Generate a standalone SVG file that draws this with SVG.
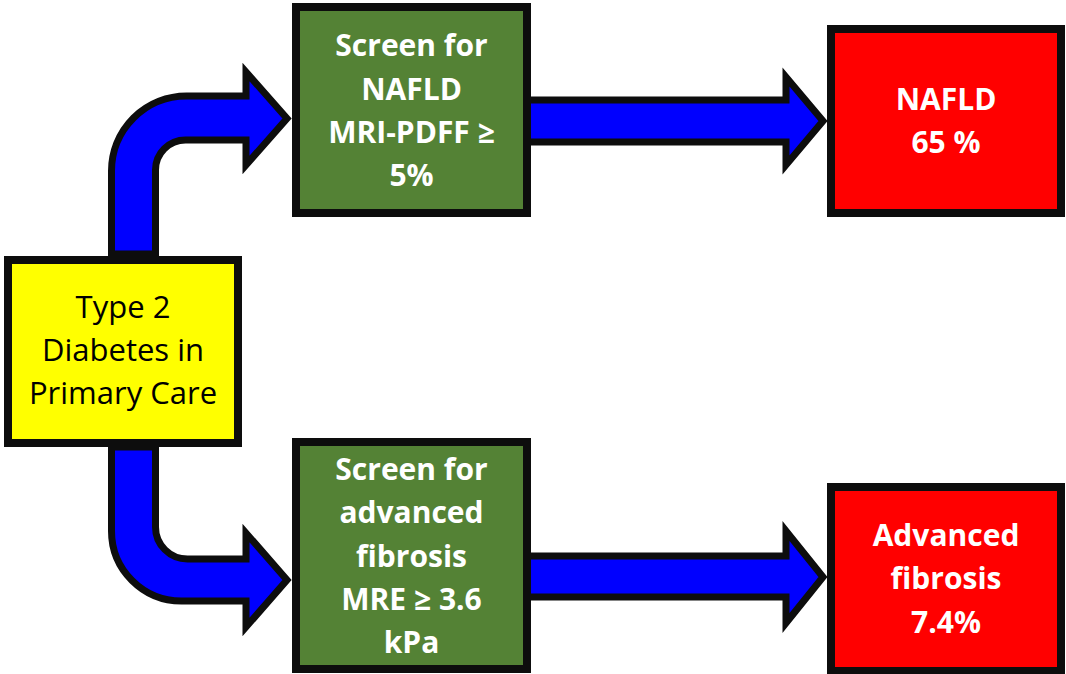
<svg xmlns="http://www.w3.org/2000/svg" width="1066" height="674" viewBox="0 0 1066 674">
<style>
.arrow{fill:#0000ff;stroke:#0d0d0d;stroke-width:7;stroke-linejoin:miter;stroke-miterlimit:10}
.box{stroke:#0d0d0d;stroke-width:8}
.t{font-family:"Open Sans","Liberation Sans",sans-serif;font-size:30px;text-anchor:middle}
.w{fill:#ffffff;font-weight:bold}
.k{fill:#000000;font-size:31px}
</style>
<rect width="1066" height="674" fill="#ffffff"/>
<g id="connectors">
<path class="arrow" d="M111.5,254 L111.5,171 A75,75 0 0 1 186.5,96 L246,96 L246,72 L287,118.5 L246,165 L246,140 L185.5,140 A30,30 0 0 0 155.5,170 L155.5,254 Z"/>
<path class="arrow" d="M111.5,447 L111.5,531 A70,70 0 0 0 181.5,601 L246,601 L246,627 L287,580 L246,533 L246,559 L187.5,559 A32,32 0 0 1 155.5,527 L155.5,447 Z"/>
<path class="arrow" d="M527,100 L786,100 L786,77 L823,121 L786,165 L786,142 L527,142 Z"/>
<path class="arrow" d="M527,556 L786,556 L786,531 L823,577 L786,623 L786,597 L527,597 Z"/>
</g>
<g id="node-diabetes">
<rect class="box" x="8" y="260" width="230" height="183" fill="#ffff00"/>
<text class="t k" x="123" y="318">Type 2</text>
<text class="t k" x="123" y="361">Diabetes in</text>
<text class="t k" x="123" y="404">Primary Care</text>
</g>
<g id="node-screen-nafld">
<rect class="box" x="296" y="7" width="231" height="206" fill="#548235"/>
<text class="t w" x="411.5" y="56">Screen for</text>
<text class="t w" x="411.5" y="100">NAFLD</text>
<text class="t w" x="411.5" y="143">MRI-PDFF ≥</text>
<text class="t w" x="411.5" y="186">5%</text>
</g>
<g id="node-screen-fibrosis">
<rect class="box" x="296" y="442" width="231" height="227" fill="#548235"/>
<text class="t w" x="411.5" y="480">Screen for</text>
<text class="t w" x="411.5" y="523">advanced</text>
<text class="t w" x="411.5" y="567">fibrosis</text>
<text class="t w" x="411.5" y="610">MRE ≥ 3.6</text>
<text class="t w" x="411.5" y="653">kPa</text>
</g>
<g id="node-nafld">
<rect class="box" x="831" y="29" width="230" height="184" fill="#ff0000"/>
<text class="t w" x="946" y="110">NAFLD</text>
<text class="t w" x="946" y="153">65 %</text>
</g>
<g id="node-fibrosis">
<rect class="box" x="831" y="487" width="230" height="184" fill="#ff0000"/>
<text class="t w" x="946" y="546">Advanced</text>
<text class="t w" x="946" y="589">fibrosis</text>
<text class="t w" x="946" y="633">7.4%</text>
</g>
</svg>
